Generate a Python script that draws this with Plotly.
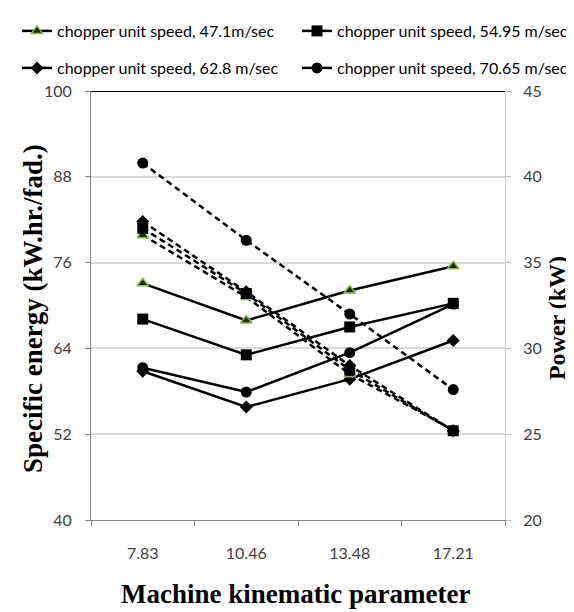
import plotly.graph_objects as go

categories = ["7.83", "10.46", "13.48", "17.21"]
series_names = [
    "chopper unit speed, 47.1m/sec",
    "chopper unit speed, 54.95 m/sec",
    "chopper unit speed, 62.8 m/sec",
    "chopper unit speed, 70.65 m/sec",
]
# Specific energy (kW.hr./fad.) - solid lines, left axis
energy_47 = [73.1, 67.9, 72.1, 75.5]
energy_55 = [68.1, 63.1, 67.0, 70.3]
energy_63 = [60.8, 55.8, 59.7, 65.1]
energy_71 = [61.3, 57.9, 63.4, 70.2]
# Power (kW) - dashed lines, right axis
power_47 = [36.6, 33.0, 28.5, 25.25]
power_55 = [37.0, 33.2, 28.75, 25.2]
power_63 = [37.4, 33.3, 29.0, 25.2]
power_71 = [40.8, 36.3, 32.0, 27.6]

energy = [energy_47, energy_55, energy_63, energy_71]
power = [power_47, power_55, power_63, power_71]

GREEN = "#8dbb3f"
markers = [
    dict(symbol="triangle-up", size=10, color="#1e2a10", line=dict(color=GREEN, width=1.5)),
    dict(symbol="square", size=11, color="black"),
    dict(symbol="diamond", size=10, color="black"),
    dict(symbol="circle", size=11, color="black"),
]
legend_ids = ["legend", "legend2", "legend3", "legend4"]

fig = go.Figure()
for i in range(4):
    fig.add_trace(go.Scatter(
        x=categories, y=energy[i], mode="lines+markers", name=series_names[i],
        line=dict(color="black", width=2.5), marker=markers[i],
        legend=legend_ids[i], yaxis="y"))
for i in range(4):
    fig.add_trace(go.Scatter(
        x=categories, y=power[i], mode="lines+markers", name=series_names[i],
        line=dict(color="black", width=2.5, dash="6px,4px"), marker=markers[i],
        showlegend=False, yaxis="y2"))

tick_font = dict(family="Lato, sans-serif", size=16, color="#404040")
legend_font = dict(family="Lato, sans-serif", size=16, color="black")

def leg(xpx, ypx):
    return dict(xref="container", yref="container", x=xpx / 574, y=1 - ypx / 612,
                xanchor="left", yanchor="middle", font=legend_font,
                bgcolor="rgba(0,0,0,0)", borderwidth=0, itemwidth=30)

fig.update_layout(
    width=574, height=612,
    margin=dict(l=83, r=77, t=83, b=100, autoexpand=False),
    plot_bgcolor="white", paper_bgcolor="white",
    xaxis=dict(type="category", range=[-0.5, 3.5], tickson="boundaries",
               ticks="outside", ticklen=5, tickcolor="#868686",
               showline=True, linecolor="#868686", linewidth=1,
               showgrid=False, tickfont=tick_font, ticklabelstandoff=19),
    yaxis=dict(range=[40, 100], dtick=12, tick0=40, ticks="outside", ticklen=5,
               tickcolor="#868686", showline=True, linecolor="#868686",
               gridcolor="#d9d9d9", gridwidth=1.5, zeroline=False,
               tickfont=tick_font, ticklabelstandoff=10),
    yaxis2=dict(range=[20, 45], dtick=5, tick0=20, overlaying="y", side="right",
                ticks="outside", ticklen=5, tickcolor="#bbbbbb",
                showline=True, linecolor="#cccccc", showgrid=False, zeroline=False,
                tickfont=tick_font, ticklabelstandoff=9),
    legend=leg(9, 23),
    legend2=leg(289, 23),
    legend3=leg(9, 60),
    legend4=leg(289, 60),
    showlegend=True,
)

fig.add_shape(type="line", xref="paper", yref="y", x0=0, x1=1, y0=100, y1=100,
              line=dict(color="black", width=2))

serif = "Liberation Serif, Times New Roman, serif"
fig.add_annotation(text="<b>Specific energy (kW.hr./fad.)</b>", xref="paper", yref="paper",
                   x=-0.14, y=0.492, textangle=-90, showarrow=False,
                   font=dict(family=serif, size=27, color="black"),
                   xanchor="center", yanchor="middle")
fig.add_annotation(text="<b>Power (kW)</b>", xref="paper", yref="paper",
                   x=1.126, y=0.471, textangle=-90, showarrow=False,
                   font=dict(family=serif, size=24, color="black"),
                   xanchor="center", yanchor="middle")
fig.add_annotation(text="<b>Machine kinematic parameter</b>", xref="paper", yref="paper",
                   x=0.493, y=-0.1725, showarrow=False,
                   font=dict(family=serif, size=27, color="black"),
                   xanchor="center", yanchor="middle")

fig.write_html("out.html")
